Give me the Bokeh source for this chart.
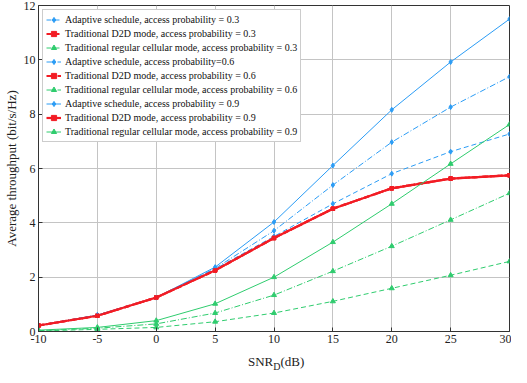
import math
from bokeh.plotting import figure
from bokeh.models import Legend, FixedTicker, Range1d, Div
from bokeh.layouts import column
from bokeh.embed import file_html
from bokeh.resources import INLINE

snr = [-10, -5, 0, 5, 10, 15, 20, 25, 30]

adaptive_03 = [0.22, 0.60, 1.25, 2.30, 3.50, 4.70, 5.81, 6.62, 7.27]
d2d_03 = [0.22, 0.58, 1.25, 2.25, 3.44, 4.52, 5.27, 5.63, 5.75]
cell_03 = [0.02, 0.08, 0.15, 0.36, 0.68, 1.11, 1.59, 2.07, 2.58]
adaptive_06 = [0.22, 0.60, 1.25, 2.32, 3.71, 5.39, 6.97, 8.26, 9.38]
d2d_06 = [0.22, 0.58, 1.25, 2.25, 3.44, 4.52, 5.27, 5.63, 5.75]
cell_06 = [0.03, 0.12, 0.28, 0.68, 1.34, 2.22, 3.14, 4.11, 5.09]
adaptive_09 = [0.22, 0.60, 1.25, 2.37, 4.03, 6.11, 8.16, 9.92, 11.5]
d2d_09 = [0.22, 0.58, 1.25, 2.25, 3.44, 4.52, 5.27, 5.63, 5.75]
cell_09 = [0.05, 0.15, 0.40, 1.02, 2.00, 3.29, 4.70, 6.17, 7.62]

labels = [
    "Adaptive schedule, access probability = 0.3",
    "Traditional D2D mode, access probability = 0.3",
    "Traditional regular cellular mode, access probability = 0.3",
    "Adaptive schedule, access probability=0.6",
    "Traditional D2D mode, access probability = 0.6",
    "Traditional regular cellular mode, access probability = 0.6",
    "Adaptive schedule, access probability = 0.9",
    "Traditional D2D mode, access probability = 0.9",
    "Traditional regular cellular mode, access probability = 0.9",
]
x_ticks = [-10, -5, 0, 5, 10, 15, 20, 25, 30]
y_ticks = [0, 2, 4, 6, 8, 10, 12]

BLUE = "#2b9cf5"
RED = "#f21c24"
GREEN = "#2fcc6e"
FONT = "Liberation Serif"

p = figure(width=511, height=347, output_backend="svg", toolbar_location=None,
           x_range=Range1d(-10, 30), y_range=Range1d(0, 12),
           min_border_left=29, min_border_right=2, min_border_top=5, min_border_bottom=16)
p.background_fill_color = "white"
p.border_fill_color = "white"
p.outline_line_color = "#333333"
p.outline_line_width = 1

for ax in (p.xaxis[0], p.yaxis[0]):
    ax.major_tick_in = 4
    ax.major_tick_out = 0
    ax.minor_tick_in = 0
    ax.minor_tick_out = 0
    ax.axis_line_color = "#333333"
    ax.major_tick_line_color = "#333333"
    ax.major_label_text_font = FONT
    ax.major_label_text_font_size = "12px"
    ax.major_label_text_color = "#222222"
p.xaxis.ticker = FixedTicker(ticks=x_ticks)
p.yaxis.ticker = FixedTicker(ticks=y_ticks)
p.xaxis.major_label_overrides = {t: str(t) for t in x_ticks}
p.yaxis.major_label_overrides = {t: str(t) for t in y_ticks}
p.xaxis.major_label_standoff = 3
p.yaxis.major_label_standoff = 3
p.yaxis.axis_label = "Average throughput (bit/s/Hz)"
p.yaxis.axis_label_text_font = FONT
p.yaxis.axis_label_text_font_size = "13px"
p.yaxis.axis_label_text_font_style = "normal"
p.yaxis.axis_label_text_color = "#222222"
p.yaxis.axis_label_standoff = 2
p.xgrid.ticker = FixedTicker(ticks=x_ticks)
p.ygrid.ticker = FixedTicker(ticks=y_ticks)
p.grid.grid_line_color = "#c4c4c4"
p.grid.grid_line_width = 1

series = [
    (adaptive_03, BLUE, "5 3", "diamond", 1.0),
    (d2d_03, RED, "5 3", "square", 2.2),
    (cell_03, GREEN, "5 3", "triangle", 1.0),
    (adaptive_06, BLUE, "6 2 1 2", "diamond", 1.0),
    (d2d_06, RED, "6 2 1 2", "square", 2.2),
    (cell_06, GREEN, "6 2 1 2", "triangle", 1.0),
    (adaptive_09, BLUE, "solid", "diamond", 1.0),
    (d2d_09, RED, "solid", "square", 2.2),
    (cell_09, GREEN, "solid", "triangle", 1.0),
]

items = []
for (vals, col, dash, mk, lw), lab in zip(series, labels):
    r1 = p.line(snr, vals, line_color=col, line_dash=dash, line_width=lw)
    size = 5 if mk != "square" else 3.5
    r2 = p.scatter(snr, vals, marker=mk, size=size, fill_color=col, line_color=col)
    items.append((lab, [r1, r2]))

legend = Legend(items=items, location="top_left")
legend.label_text_font = FONT
legend.label_text_font_size = "10px"
legend.label_text_color = "#111111"
legend.glyph_width = 15
legend.glyph_height = 13
legend.label_height = 13
legend.spacing = 1
legend.padding = 3
legend.margin = 4
legend.label_standoff = 4
legend.border_line_color = "#999999"
legend.border_line_width = 1
legend.background_fill_alpha = 1
p.add_layout(legend)

xtitle = Div(
    text=("<div style=\"font-family:'Liberation Serif',serif;font-size:13px;color:#222;"
          "line-height:14px;margin:0;padding-top:3px;padding-left:243px;white-space:nowrap\">"
          "SNR<sub style=\"font-size:10px;vertical-align:-4px\">D</sub>(dB)</div>"),
    width=511, height=19)

layout = column(p, xtitle, spacing=0)
open("out.html", "w").write(file_html(layout, INLINE))
